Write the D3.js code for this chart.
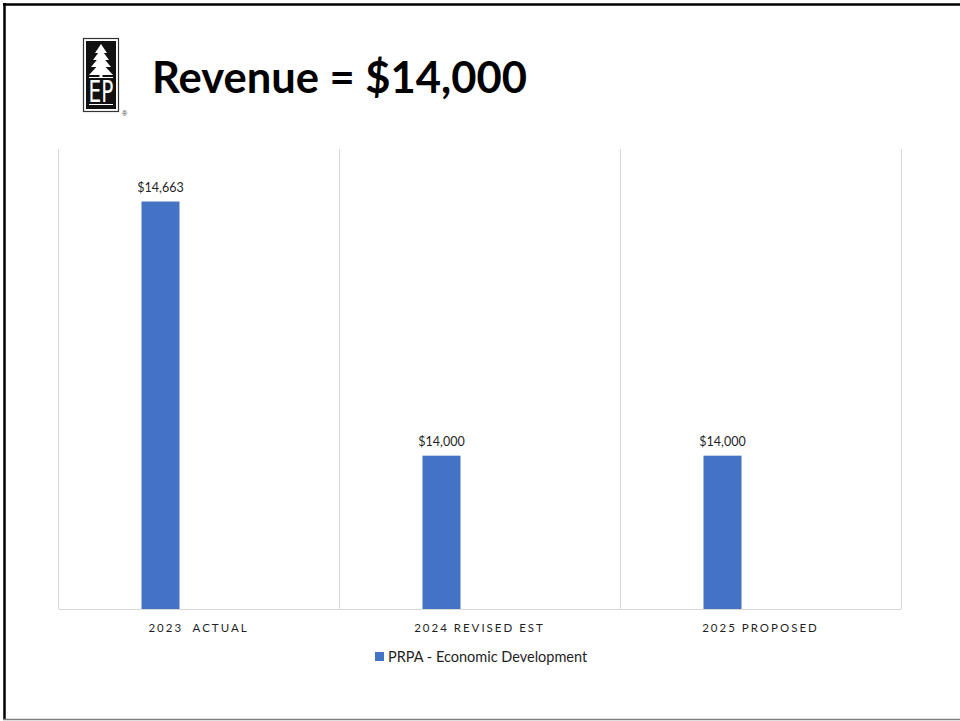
<!DOCTYPE html>
<html>
<head>
<meta charset="utf-8">
<script src="https://cdn.jsdelivr.net/npm/d3@7/dist/d3.min.js"></script>
<style>
  html, body { margin: 0; padding: 0; background: #fff; }
  svg { display: block; }
</style>
</head>
<body>
<svg id="chart" width="960" height="721"></svg>
<script>
// Revenue by budget year
const categories = ["2023  ACTUAL", "2024 REVISED EST", "2025 PROPOSED"];
const seriesName = "PRPA - Economic Development";
const values = [14663, 14000, 14000];
const yDomain = [13600, 14800];
const titleText = "Revenue = $14,000";

const svg = d3.select("#chart");
const W = 960, H = 721;
const plot = { left: 58, right: 901, top: 149, bottom: 609 };
const barColor = "#4472C4";
const gridColor = "#d9d9d9";

// slide frame
svg.append("line").attr("x1", 3).attr("x2", W).attr("y1", 4.5).attr("y2", 4.5)
  .attr("stroke", "#000").attr("stroke-width", 2.5);
svg.append("line").attr("x1", 4.5).attr("x2", 4.5).attr("y1", 3).attr("y2", H - 1)
  .attr("stroke", "#000").attr("stroke-width", 2.5);
svg.append("line").attr("x1", 3).attr("x2", W).attr("y1", 719.5).attr("y2", 719.5)
  .attr("stroke", "#808080").attr("stroke-width", 1.5);

// logo
const logo = svg.append("g");
logo.append("rect").attr("x", 83.5).attr("y", 38.5).attr("width", 35).attr("height", 73)
  .attr("fill", "#fff").attr("stroke", "#333").attr("stroke-width", 1.2);
logo.append("rect").attr("x", 86).attr("y", 41).attr("width", 30).attr("height", 68)
  .attr("fill", "#111");
// tree in tiers
const tiers = [[44, 53, 6], [49, 60, 8], [55, 67, 10], [62, 75, 12]];
tiers.forEach(([t, b, hw]) => {
  logo.append("path")
    .attr("d", `M101,${t} L${101 + hw},${b} L${101 - hw},${b} Z`)
    .attr("fill", "#fff");
});
logo.append("rect").attr("x", 99.5).attr("y", 74).attr("width", 3).attr("height", 3).attr("fill", "#fff");
logo.append("line").attr("x1", 89).attr("x2", 113).attr("y1", 77.5).attr("y2", 77.5)
  .attr("stroke", "#fff").attr("stroke-width", 1);
logo.append("line").attr("x1", 89).attr("x2", 113).attr("y1", 104.5).attr("y2", 104.5)
  .attr("stroke", "#fff").attr("stroke-width", 1);
logo.append("text").attr("x", 101).attr("y", 102)
  .attr("text-anchor", "middle")
  .attr("font-family", "'DejaVu Sans Condensed', 'Liberation Sans Narrow', sans-serif")
  .attr("font-size", 31).attr("fill", "#fff")
  .attr("transform", "translate(101,102) scale(0.72,1) translate(-101,-102)")
  .text("EP");
logo.append("text").attr("x", 122).attr("y", 116)
  .attr("font-family", "Arial, sans-serif").attr("font-size", 7).attr("fill", "#333")
  .text("®");

// title
const title = svg.append("text")
  .attr("x", 152).attr("y", 93)
  .attr("font-family", "Lato, 'Open Sans', sans-serif")
  .attr("font-weight", 700).attr("font-size", 48).attr("fill", "#000")
  .text(titleText);
const tw = title.node().getComputedTextLength();
title.attr("font-size", 48 * 375 / tw);

// scales
const x = d3.scaleBand().domain(categories).range([plot.left, plot.right]).padding(0);
const slots = d3.scaleBand().domain([0, 1, 2])
  .range([x.bandwidth() / 2 - 57, x.bandwidth() / 2 + 57]).padding(0);
const y = d3.scaleLinear().domain(yDomain).range([plot.bottom, plot.top]);

// vertical category gridlines
const edges = categories.map(c => x(c)).concat([plot.right]);
svg.append("g").selectAll("line").data(edges).join("line")
  .attr("x1", d => d + 0.5).attr("x2", d => d + 0.5)
  .attr("y1", plot.top).attr("y2", plot.bottom)
  .attr("stroke", gridColor).attr("stroke-width", 1);

// bars
const data = categories.map((c, i) => ({ c, v: values[i] }));
svg.append("g").selectAll("rect").data(data).join("rect")
  .attr("x", d => x(d.c) + slots(0))
  .attr("width", slots.bandwidth())
  .attr("y", d => y(d.v))
  .attr("height", d => y(yDomain[0]) - y(d.v))
  .attr("fill", barColor);

// data labels
const fmt = d3.format("$,");
svg.append("g").selectAll("text").data(data).join("text")
  .attr("x", d => x(d.c) + slots(0) + slots.bandwidth() / 2)
  .attr("y", d => y(d.v) - 10)
  .attr("text-anchor", "middle")
  .attr("font-family", "Lato, 'Open Sans', sans-serif")
  .attr("font-size", 12.5).attr("fill", "#1f1f1f")
  .text(d => fmt(d.v));

// category axis
const xAxis = d3.axisBottom(x).tickSize(0).tickPadding(15);
const ax = svg.append("g").attr("transform", `translate(0,${plot.bottom})`).call(xAxis);
ax.select(".domain").attr("stroke", gridColor).attr("stroke-width", 1.2);
ax.selectAll("text")
  .attr("font-family", "Lato, 'Open Sans', sans-serif")
  .attr("font-size", 11.5).attr("fill", "#1f1f1f")
  .attr("letter-spacing", "2px")
  .style("white-space", "pre");

// legend
const lg = svg.append("g").attr("transform", "translate(375,652)");
lg.append("rect").attr("width", 9).attr("height", 9).attr("fill", barColor);
lg.append("text").attr("x", 13).attr("y", 10)
  .attr("font-family", "Lato, 'Open Sans', sans-serif")
  .attr("font-size", 14.5).attr("fill", "#1f1f1f")
  .text(seriesName);
</script>
</body>
</html>
